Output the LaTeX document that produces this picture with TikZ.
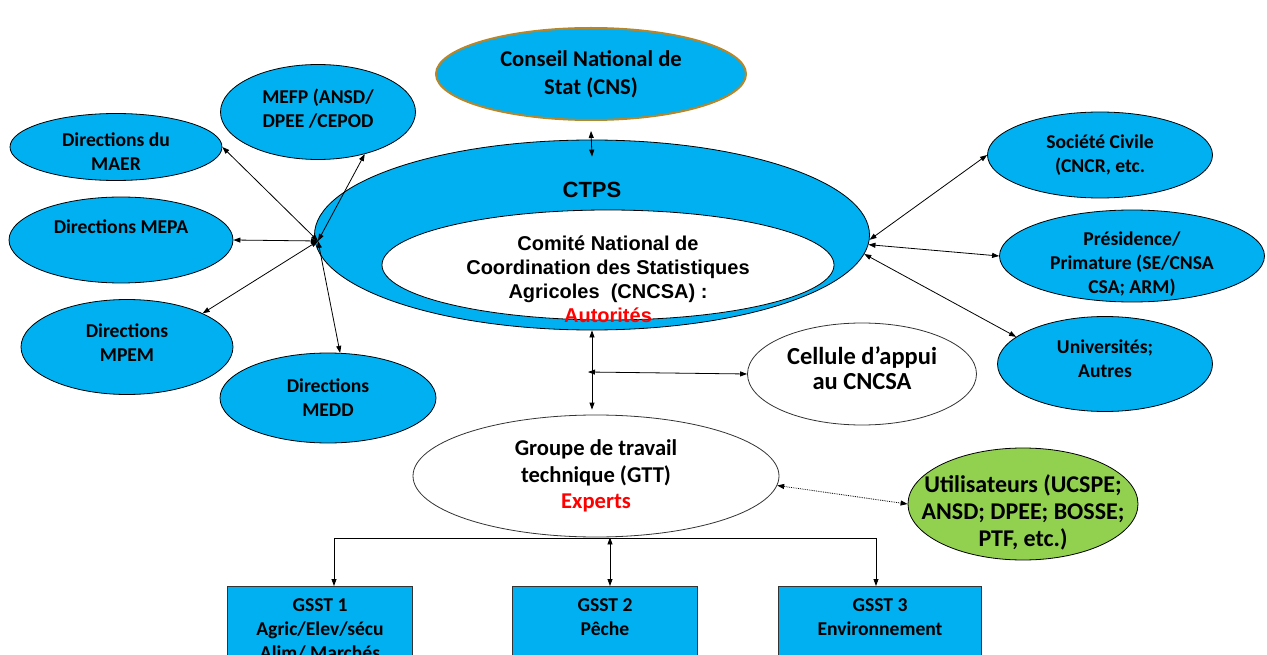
\documentclass[tikz,border=0pt]{standalone}
\usepackage{fontspec}
\setmainfont{Carlito}
\newfontfamily\arialfont{Liberation Sans}
\usepackage{tikz}
\usetikzlibrary{shapes.geometric, arrows.meta}

\definecolor{skyblue}{RGB}{0,176,240}
\definecolor{leafgreen}{RGB}{146,208,80}
\definecolor{goldrim}{RGB}{184,134,40}

\begin{document}
\begin{tikzpicture}[x=1pt, y=-1pt,
		every node/.style={font=\fontsize{19.6}{24}\selectfont\bfseries, align=center},
		blob/.style={ellipse, draw=black, line width=0.8pt, fill=skyblue, inner sep=0pt},
		hollow/.style={ellipse, draw=black!80, line width=0.8pt, fill=white, inner sep=0pt},
		gsst/.style={rectangle, draw=black!80, line width=0.8pt, fill=skyblue, minimum width=185, anchor=north, inner ysep=12pt},
		arialtxt/.style={font=\arialfont\fontsize{20}{24}\selectfont\bfseries},
		twoway/.style={line width=0.8pt, {Triangle[length=7pt,width=5pt]}-{Triangle[length=7pt,width=5pt]}},
		oneway/.style={line width=0.8pt, -{Triangle[length=7pt,width=5pt]}}]
			\useasboundingbox (0,0) rectangle (1267,655);
			\clip (0,0) rectangle (1267,655);

			% upper layer
			\node[blob, draw=goldrim, line width=2pt, minimum width=310, minimum height=92, label={[font=\fontsize{22.6}{28}\selectfont\bfseries]center:{Conseil National de\\Stat (CNS)}}] (cns) at (591, 74) {};
			\node[blob, minimum width=555, minimum height=190, label={[arialtxt, font=\arialfont\fontsize{22}{26}\selectfont\bfseries, yshift=45]center:CTPS}] (ctps) at (592, 235) {};
			\node[hollow, draw=black, minimum width=452, minimum height=110, label={[arialtxt, yshift=-14]center:{Comité National de\\Coordination des Statistiques\\Agricoles~ (CNCSA) :\\\textcolor{red}{Autorités}}}] (cncsa) at (608, 265) {};

			% ministries on the left
			\node[blob, minimum width=195, minimum height=95, label={[yshift=3]center:{MEFP (ANSD/\\DPEE /CEPOD}}] (mefp) at (318, 112) {};
			\node[blob, minimum width=212, minimum height=67, label={[yshift=-5]center:{Directions du\\MAER}}] (maer) at (116, 147) {};
			\node[blob, minimum width=224, minimum height=86, label={[yshift=13]center:Directions MEPA}] (mepa) at (121, 240) {};
			\node[blob, minimum width=212, minimum height=95, label={[yshift=4]center:{Directions\\MPEM}}] (mpem) at (127, 347) {};
			\node[blob, minimum width=216, minimum height=90, label={center:{Directions\\MEDD}}] (medd) at (328, 398) {};

			% partners on the right
			\node[blob, minimum width=225, minimum height=86, label={center:{Société Civile\\(CNCR, etc.}}] (soc) at (1100, 155) {};
			\node[blob, minimum width=265, minimum height=92, label={[yshift=-8]center:{Présidence/\\Primature (SE/CNSA\\CSA; ARM)}}] (pres) at (1132, 256) {};
			\node[blob, minimum width=215, minimum height=95, label={[yshift=5]center:{Universités;\\Autres}}] (univ) at (1105, 364) {};

			% lower layer
			\node[hollow, minimum width=229, minimum height=102, label={[font=\fontsize{24.5}{25}\selectfont\bfseries, yshift=6]center:{Cellule d’appui\\au CNCSA}}] (cellule) at (862, 374) {};
			\node[hollow, minimum width=366, minimum height=122, label={[font=\fontsize{22.6}{26.5}\selectfont\bfseries]center:{Groupe de travail\\technique (GTT)\\\textcolor{red}{Experts}}}] (gtt) at (596, 476) {};
			\node[blob, fill=leafgreen, minimum width=230, minimum height=112, label={[font=\fontsize{24}{27}\selectfont\bfseries, yshift=-8]center:{Utilisateurs (UCSPE;\\ANSD; DPEE; BOSSE;\\PTF, etc.)}}] (util) at (1023, 504) {};

			\node[gsst] (gsst1) at (320, 586) {GSST 1\\Agric/Elev/sécu\\Alim/ Marchés\\\strut};
			\node[gsst] (gsst2) at (605, 586) {GSST 2\\Pêche\\\strut\\\strut};
			\node[gsst, minimum width=203] (gsst3) at (880, 586) {GSST 3\\Environnement\\\strut\\\strut};

			% left fan
			\coordinate (lhub) at (318, 241);
			\draw[twoway] (maer.east) -- (lhub);
			\draw[twoway] (mefp.-42) -- (lhub);
			\draw[twoway] (mepa.east) -- (lhub);
			\draw[twoway] (mpem.24) -- (lhub);
			\draw[twoway] (medd.75) -- (lhub);

			% right fan
			\draw[twoway] (soc.west) -- (ctps.-1);
			\draw[twoway] (pres.west) -- (ctps.-2.5);
			\draw[twoway] (univ.163) -- (ctps.-4);

			% vertical links
			\draw[twoway] ([yshift=-10]cns.south) -- ([yshift=-17]ctps.north);
			\draw[twoway] (ctps.south) -- ([yshift=5]ctps.south |- gtt.north);
			\coordinate (split) at (588, 372);
			\draw[twoway] (split) -- (cellule.west);
			\draw[twoway, densely dotted] (gtt.-3) -- (util.west);

			% tree to the sub groups
			\coordinate (fork1) at (334, 538);
			\coordinate (fork2) at (610, 538);
			\coordinate (fork3) at (876, 538);
			\draw[line width=0.8pt] (fork1) -- (fork3);
			\draw[oneway] (fork1) -- (fork1 |- gsst1.north);
			\draw[twoway] (fork2 |- gtt.south) -- (fork2 |- gsst2.north);
			\draw[oneway] (fork3) -- (fork3 |- gsst3.north);
		\end{tikzpicture}
\end{document}
